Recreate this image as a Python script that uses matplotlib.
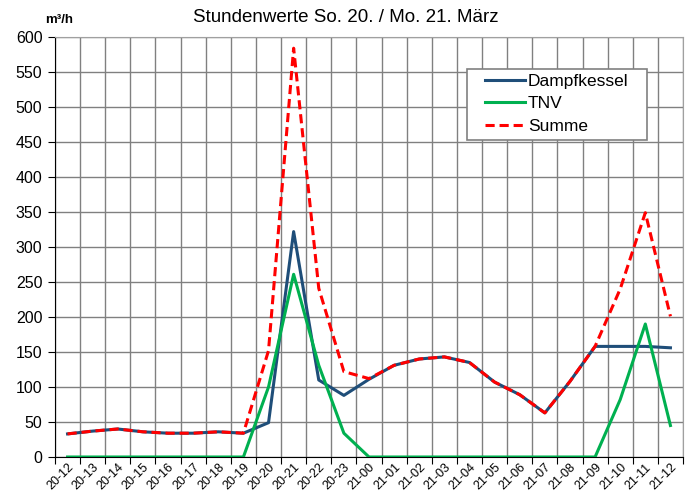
import matplotlib.pyplot as plt
import numpy as np
from matplotlib.patches import Rectangle

plt.rcParams['font.family'] = ['Liberation Sans', 'DejaVu Sans']

stunden = ['20-12', '20-13', '20-14', '20-15', '20-16', '20-17', '20-18', '20-19',
           '20-20', '20-21', '20-22', '20-23', '21-00', '21-01', '21-02', '21-03',
           '21-04', '21-05', '21-06', '21-07', '21-08', '21-09', '21-10', '21-11',
           '21-12']
dampfkessel = [33, 37, 40, 36, 34, 34, 36, 34, 49, 322, 110, 88, 111, 131, 140, 143,
               135, 107, 89, 63, 108, 158, 158, 158, 156]
tnv = [0, 0, 0, 0, 0, 0, 0, 0, 100, 261, 131, 34, 0, 0, 0, 0,
       0, 0, 0, 0, 0, 0, 82, 190, 45]
summe = [33, 37, 40, 36, 34, 34, 36, 34, 152, 584, 241, 122, 112, 131, 140, 143,
         135, 107, 89, 63, 108, 158, 240, 349, 201]


def main():
    fig = plt.figure(figsize=(6.91, 4.94), dpi=100)
    ax = fig.add_axes([55 / 691, 1 - 457 / 494, 628 / 691, 420 / 494])

    x = np.arange(len(stunden))
    ax.plot(x, dampfkessel, color='#1f4e79', lw=2.2, label='Dampfkessel', zorder=3)
    ax.plot(x, tnv, color='#00b050', lw=2.2, label='TNV', zorder=3)
    ax.plot(x, summe, color='#ff0000', lw=2.2, ls=(0, (3, 1.6)), label='Summe', zorder=4)

    ax.set_xlim(-0.5, len(stunden) - 0.5)
    ax.set_ylim(0, 600)
    ax.set_yticks(np.arange(0, 601, 50))
    ax.set_xticks(np.arange(-0.5, len(stunden), 1))
    ax.set_xticklabels([])
    ax.set_xticks(x, minor=True)
    ax.set_xticklabels(stunden, minor=True, rotation=45, ha='right',
                       rotation_mode='anchor', fontsize=9)
    ax.tick_params(axis='x', which='minor', length=0, pad=3)
    ax.tick_params(axis='x', which='major', length=5, direction='out', color='black')
    ax.tick_params(axis='y', labelsize=11.5, length=5, color='black', pad=4)

    ax.grid(True, which='major', color='#808080', lw=1)
    ax.set_axisbelow(True)
    for s in ['top', 'right']:
        ax.spines[s].set_color('#a0a0a0')
    for s in ['left', 'bottom']:
        ax.spines[s].set_color('black')

    fig.text(0.5, 1 - 18 / 494, 'Stundenwerte So. 20. / Mo. 21. März',
             ha='center', va='center', fontsize=13.5)
    fig.text(45 / 691, 1 - 20 / 494, 'm³/h', ha='left', va='center',
             fontsize=9.5, fontweight='bold')

    # legend frame drawn separately so it can be wider than the entries
    ax.add_patch(Rectangle((0.656, 0.755), 0.287, 0.169, transform=ax.transAxes,
                           facecolor='white', edgecolor='#808080', lw=1.2, zorder=5))
    leg = ax.legend(loc='upper left', bbox_to_anchor=(0.685, 0.913), fontsize=12.5,
                    handlelength=2.3, handletextpad=0.15, frameon=False,
                    borderpad=0, labelspacing=0.42, borderaxespad=0)
    leg.set_zorder(6)

    fig.savefig('out.png', dpi=100)


if __name__ == '__main__':
    main()
